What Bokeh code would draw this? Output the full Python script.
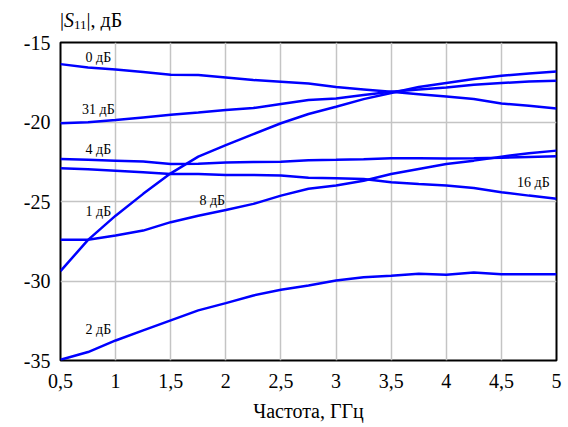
from bokeh.plotting import figure
from bokeh.models import FixedTicker, Range1d, Div
from bokeh.layouts import column
from bokeh.core.properties import value
from bokeh.embed import file_html
from bokeh.resources import INLINE

# ---- data ----
freq = [0.5, 0.75, 1.0, 1.25, 1.5, 1.75, 2.0, 2.25, 2.5, 2.75, 3.0, 3.25, 3.5, 3.75, 4.0, 4.25, 4.5, 4.75, 5.0]

s11_0db = [-16.36, -16.57, -16.7, -16.86, -17.03, -17.05, -17.2, -17.36, -17.47, -17.58, -17.8, -17.95, -18.1, -18.25, -18.4, -18.55, -18.83, -18.98, -19.15]
s11_31db = [-20.08, -20.02, -19.88, -19.71, -19.54, -19.4, -19.25, -19.12, -18.87, -18.62, -18.52, -18.3, -18.1, -17.96, -17.83, -17.66, -17.55, -17.45, -17.4]
s11_1db = [-29.38, -27.41, -25.89, -24.52, -23.23, -22.18, -21.45, -20.76, -20.08, -19.5, -19.04, -18.56, -18.18, -17.8, -17.55, -17.3, -17.09, -16.95, -16.82]
s11_4db = [-22.33, -22.37, -22.43, -22.49, -22.64, -22.62, -22.55, -22.52, -22.5, -22.4, -22.38, -22.35, -22.28, -22.28, -22.3, -22.28, -22.25, -22.2, -22.15]
s11_16db = [-22.91, -22.97, -23.06, -23.16, -23.27, -23.27, -23.33, -23.33, -23.37, -23.5, -23.54, -23.58, -23.79, -23.9, -24.0, -24.15, -24.42, -24.63, -24.82]
s11_8db = [-27.41, -27.41, -27.14, -26.83, -26.3, -25.9, -25.53, -25.15, -24.63, -24.2, -24.0, -23.69, -23.27, -22.95, -22.64, -22.43, -22.18, -21.97, -21.8]
s11_2db = [-34.95, -34.47, -33.74, -33.11, -32.48, -31.85, -31.39, -30.91, -30.55, -30.28, -29.97, -29.76, -29.67, -29.55, -29.6, -29.47, -29.57, -29.57, -29.57]

series = [s11_0db, s11_31db, s11_1db, s11_4db, s11_16db, s11_8db, s11_2db]

curve_labels = ["0 дБ", "31 дБ", "4 дБ", "1 дБ", "8 дБ", "2 дБ", "16 дБ"]
curve_label_x = [0.844, 0.844, 0.844, 0.844, 1.877, 0.844, 4.79]
curve_label_y = [-15.96, -19.23, -21.74, -25.6, -24.91, -33.02, -23.78]

x_ticks = [0.5, 1.0, 1.5, 2.0, 2.5, 3.0, 3.5, 4.0, 4.5, 5.0]
x_tick_labels = ["0,5", "1", "1,5", "2", "2,5", "3", "3,5", "4", "4,5", "5"]
y_ticks = [-35, -30, -25, -20, -15]
y_tick_labels = ["-35", "-30", "-25", "-20", "-15"]

x_title = "Частота, ГГц"

FONT = "Liberation Serif"
W = 566
TOP_H = 30
BL, BR = 60, 10

# ---- y-axis title strip above the plot: |S11|, дБ ----
title_html = (
    '<div style="font-family: \'Liberation Serif\', serif; font-size: 20px; line-height: 20px; '
    'color: black; padding-top: 10px; padding-left: 60px; white-space: nowrap;">'
    '|<i>S</i><span style="font-size: 13px; position: relative; top: 2px;">11</span>|, дБ'
    '</div>'
)
top = Div(text=title_html, width=W, height=TOP_H, margin=(0, 0, 0, 0))

# ---- main plot ----
p = figure(width=W, height=427 - TOP_H, output_backend="svg", toolbar_location=None,
           x_range=Range1d(0.5, 5), y_range=Range1d(-35, -15),
           min_border_left=BL, min_border_right=BR, min_border_top=42 - TOP_H, min_border_bottom=67)
p.background_fill_color = "white"
p.border_fill_color = "white"
p.outline_line_color = "black"
p.outline_line_width = 2
p.outline_line_alpha = 1.0

for axs in (p.xaxis, p.yaxis):
    axs.axis_line_color = None
    axs.major_tick_line_color = None
    axs.minor_tick_line_color = None
    axs.major_tick_out = 0
    axs.major_tick_in = 0
    axs.minor_tick_out = 0
    axs.minor_tick_in = 0
    axs.major_label_text_font = FONT
    axs.major_label_text_font_size = "20px"
    axs.major_label_text_color = "black"

p.xaxis.ticker = FixedTicker(ticks=x_ticks)
p.xaxis.major_label_overrides = {t: l for t, l in zip(x_ticks, x_tick_labels)}
p.xaxis.major_label_standoff = 13
p.xaxis.axis_label = x_title
p.xaxis.axis_label_text_font = FONT
p.xaxis.axis_label_text_font_size = "20px"
p.xaxis.axis_label_text_font_style = "normal"
p.xaxis.axis_label_text_color = "black"
p.xaxis.axis_label_standoff = 9

p.yaxis.ticker = FixedTicker(ticks=y_ticks)
p.yaxis.major_label_overrides = {t: l for t, l in zip(y_ticks, y_tick_labels)}
p.yaxis.major_label_standoff = 10

p.xgrid.grid_line_color = "#c4c4c4"
p.ygrid.grid_line_color = "#c4c4c4"
p.xgrid.grid_line_width = 1.5
p.ygrid.grid_line_width = 1.5

for s in series:
    p.line(freq, s, line_color="#0000ff", line_width=2.5)

p.text(x=curve_label_x, y=curve_label_y, text=curve_labels,
       text_font=value(FONT), text_font_size="14px", text_color="black",
       text_align="center", text_baseline="middle")

layout = column(top, p, spacing=0)
open("out.html", "w").write(file_html(layout, INLINE))
